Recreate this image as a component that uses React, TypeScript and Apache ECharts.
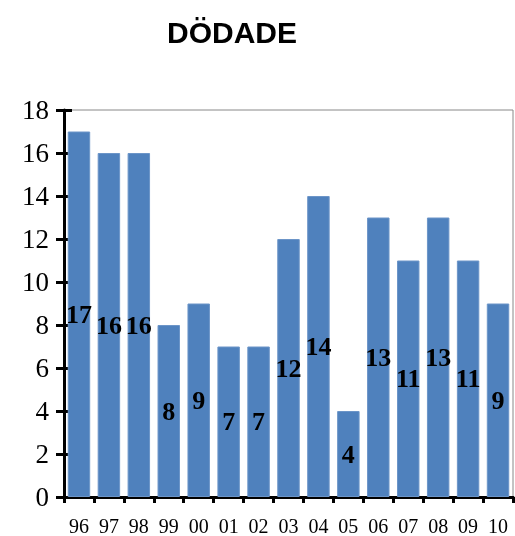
import React, { useEffect, useRef } from "react";
import * as echarts from "echarts";

const categories = ["96", "97", "98", "99", "00", "01", "02", "03", "04", "05", "06", "07", "08", "09", "10"];
const values = [17, 16, 16, 8, 9, 7, 7, 12, 14, 4, 13, 11, 13, 11, 9];
const titleText = "DÖDADE";

const SERIF = "'Liberation Serif', 'Times New Roman', serif";
const SANS = "'Liberation Sans', Arial, sans-serif";

export default function App() {
  const ref = useRef<HTMLDivElement>(null);
  useEffect(() => {
    if (!ref.current) return;
    const chart = echarts.init(ref.current, null, { renderer: "svg" });
    chart.setOption({
      animation: false,
      graphic: [
        {
          type: "text",
          x: 232,
          y: 32,
          style: {
            text: titleText,
            font: `bold 30px ${SANS}`,
            fill: "#000",
            textAlign: "center",
            textVerticalAlign: "middle",
          },
        },
      ],
      grid: {
        left: 64,
        top: 110,
        width: 449,
        height: 388,
        show: true,
        borderColor: "#888",
        borderWidth: 1,
        backgroundColor: "transparent",
      },
      xAxis: [
        {
          type: "category",
          data: categories,
          position: "bottom",
          axisLine: { lineStyle: { color: "#000", width: 3 } },
          axisTick: { show: true, length: 6, lineStyle: { color: "#000", width: 3 } },
          axisLabel: { color: "#000", fontSize: 20, fontFamily: SERIF, margin: 19 },
        },
        {
          type: "category",
          data: categories,
          position: "top",
          axisLine: { lineStyle: { color: "#000", width: 3 } },
          axisTick: { show: false },
          axisLabel: { show: false },
        },
      ],
      yAxis: [
        {
          type: "value",
          min: 0,
          max: 18,
          interval: 2,
          position: "left",
          splitLine: { show: false },
          axisLine: { show: true, lineStyle: { color: "#000", width: 3 } },
          axisTick: { show: true, length: 8, lineStyle: { color: "#000", width: 3 } },
          axisLabel: { color: "#000", fontSize: 27, fontFamily: SERIF, margin: 15 },
        },
        {
          type: "value",
          min: 0,
          max: 18,
          interval: 2,
          position: "left",
          splitLine: { show: false },
          axisLine: { show: false },
          axisTick: { show: true, inside: true, length: 8, lineStyle: { color: "#000", width: 3 } },
          axisLabel: { show: false },
        },
      ],
      series: [
        {
          type: "bar",
          data: values,
          xAxisIndex: 0,
          yAxisIndex: 0,
          barCategoryGap: "25%",
          itemStyle: { color: "#4F81BD", borderColor: "#6C95C8", borderWidth: 1 },
          label: {
            show: true,
            position: "inside",
            color: "#000",
            fontSize: 26,
            fontWeight: "bold",
            fontFamily: SERIF,
          },
        },
      ],
    });
    return () => chart.dispose();
  }, []);
  return <div ref={ref} style={{ position: "fixed", left: 0, top: 0, width: 515, height: 536 }} />;
}
